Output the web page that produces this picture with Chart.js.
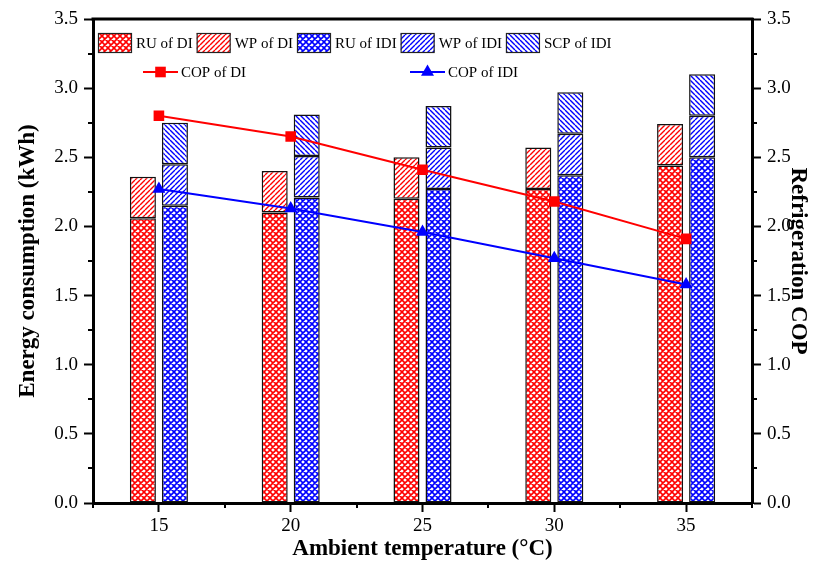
<!DOCTYPE html>
<html>
<head>
<meta charset="utf-8">
<title>Energy consumption and COP</title>
<script src="https://cdn.jsdelivr.net/npm/chart.js@4.4.0/dist/chart.umd.min.js"></script>
<style>
    html, body { margin: 0; padding: 0; background: #fff; }
    #wrap { width: 824px; height: 565px; }
</style>
</head>
<body>
<div id="wrap"><canvas id="mainChart"></canvas></div>
<script>
// ============ DATA ============

const temps = ['15', '20', '25', '30', '35'];

const ruDI  = [2.06, 2.10, 2.20, 2.27, 2.44];
const wpDI  = [0.30, 0.30, 0.30, 0.30, 0.30];
const ruIDI = [2.15, 2.21, 2.27, 2.37, 2.50];
const wpIDI = [0.30, 0.30, 0.30, 0.30, 0.30];
const scpIDI = [0.30, 0.30, 0.30, 0.30, 0.30];

const copDI  = [2.80, 2.65, 2.41, 2.18, 1.91];
const copIDI = [2.27, 2.13, 1.96, 1.77, 1.58];

const RED = '#ff0000';
const BLUE = '#0000ff';
const FONT = "'Liberation Serif', 'Times New Roman', serif";

// ============ PATTERNS ============

function makePattern(color, kind) {
    const s = kind === 'cross' ? 6 : 5;
    const c = document.createElement('canvas');
    c.width = s; c.height = s;
    const g = c.getContext('2d');
    g.fillStyle = '#fff';
    g.fillRect(0, 0, s, s);
    g.strokeStyle = color;
    g.lineWidth = kind === 'cross' ? 1.6 : 1.4;
    g.beginPath();
    for (let k = -s; k <= s; k += s) {
        if (kind === 'fwd' || kind === 'cross') {
            g.moveTo(k, s); g.lineTo(k + s, 0);
        }
        if (kind === 'back' || kind === 'cross') {
            g.moveTo(k, 0); g.lineTo(k + s, s);
        }
    }
    g.stroke();
    return g.createPattern(c, 'repeat');
}

// ============ PLUGINS ============

// top frame line + minor ticks on all three axes
const frameTicks = {
    id: 'frameTicks',
    afterDraw(chart) {
        const { ctx, chartArea: a } = chart;
        const y = chart.scales.y;
        const x = chart.scales.x;
        ctx.save();
        ctx.strokeStyle = '#000';
        ctx.lineWidth = 3;
        ctx.beginPath();
        ctx.moveTo(a.left - 1.5, a.top);
        ctx.lineTo(a.right + 1.5, a.top);
        ctx.stroke();

        ctx.lineWidth = 2;
        ctx.beginPath();
        for (let v = 0.25; v < 3.5; v += 0.5) {
            const py = Math.round(y.getPixelForValue(v));
            ctx.moveTo(a.left - 5, py); ctx.lineTo(a.left, py);
            ctx.moveTo(a.right, py); ctx.lineTo(a.right + 5, py);
        }
        for (let i = 0; i <= temps.length; i++) {
            const px = Math.round(x.getPixelForValue(i - 0.5));
            ctx.moveTo(px, a.bottom); ctx.lineTo(px, a.bottom + 5);
        }
        ctx.stroke();
        ctx.restore();
    }
};

// legend drawn inside the plot, two rows like the original
const plotLegend = {
    id: 'plotLegend',
    afterDraw(chart) {
        const ctx = chart.ctx;
        const ds = chart.data.datasets;
        ctx.save();
        ctx.font = '15px ' + FONT;
        ctx.textBaseline = 'middle';

        let x = 98;
        const y1 = 43;
        ds.filter(d => d.type !== 'line').forEach(d => {
            ctx.fillStyle = d.backgroundColor;
            ctx.fillRect(x, y1 - 10, 34, 20);
            ctx.strokeStyle = '#222';
            ctx.lineWidth = 1.2;
            ctx.strokeRect(x + 0.5, y1 - 9.5, 33, 19);
            ctx.fillStyle = '#000';
            ctx.fillText(d.label, x + 38, y1 + 1);
            x += 38 + ctx.measureText(d.label).width + 4;
        });

        const y2 = 72;
        const starts = [143, 410];
        ds.filter(d => d.type === 'line').forEach((d, i) => {
            const sx = starts[i];
            ctx.strokeStyle = d.borderColor;
            ctx.lineWidth = 2;
            ctx.beginPath();
            ctx.moveTo(sx, y2); ctx.lineTo(sx + 35, y2);
            ctx.stroke();
            ctx.fillStyle = d.borderColor;
            Chart.helpers.drawPoint(ctx, {
                pointStyle: d.pointStyle, radius: d.pointRadius,
                borderWidth: 0, rotation: 0
            }, sx + 17.5, y2);
            ctx.fillStyle = '#000';
            ctx.fillText(d.label, sx + 38, y2 + 1);
        });
        ctx.restore();
    }
};

// ============ CHART ============

Chart.defaults.font.family = FONT;
Chart.defaults.font.size = 19;
Chart.defaults.color = '#000';

const barCommon = {
    borderColor: '#111',
    borderWidth: 1.5,
    borderSkipped: false,
    categoryPercentage: 0.486,
    barPercentage: 0.8125,
    order: 1
};

const axisY = (position, width, title, titlePad) => ({
    type: 'linear',
    position: position,
    min: 0,
    max: 3.5,
    stacked: position === 'left',
    grid: {
        drawOnChartArea: false,
        drawTicks: true,
        tickLength: 9,
        tickWidth: 2,
        tickColor: '#000'
    },
    border: { display: true, width: 3, color: '#000' },
    ticks: {
        stepSize: 0.5,
        padding: 6,
        callback: v => Number(v).toFixed(1)
    },
    title: {
        display: true,
        text: title,
        font: { size: 23, weight: 'bold' },
        padding: { top: titlePad, bottom: 0 }
    },
    afterFit: s => { s.width = width; }
});

const ctx = document.getElementById('mainChart').getContext('2d');

const chart = new Chart(ctx, {
    type: 'bar',
    data: {
        labels: temps,
        datasets: [
            { ...barCommon, label: 'RU of DI', data: ruDI, stack: 'DI', backgroundColor: makePattern(RED, 'cross') },
            { ...barCommon, label: 'WP of DI', data: wpDI, stack: 'DI', backgroundColor: makePattern(RED, 'fwd') },
            { ...barCommon, label: 'RU of IDI', data: ruIDI, stack: 'IDI', backgroundColor: makePattern(BLUE, 'cross') },
            { ...barCommon, label: 'WP of IDI', data: wpIDI, stack: 'IDI', backgroundColor: makePattern(BLUE, 'fwd') },
            { ...barCommon, label: 'SCP of IDI', data: scpIDI, stack: 'IDI', backgroundColor: makePattern(BLUE, 'back') },
            {
                type: 'line', label: 'COP of DI', data: copDI, yAxisID: 'y1',
                borderColor: RED, backgroundColor: RED, borderWidth: 2,
                pointStyle: 'rect', pointRadius: 7.5, pointBorderWidth: 0,
                tension: 0, fill: false, order: 0
            },
            {
                type: 'line', label: 'COP of IDI', data: copIDI, yAxisID: 'y1',
                borderColor: BLUE, backgroundColor: BLUE, borderWidth: 2,
                pointStyle: 'triangle', pointRadius: 7.5, pointBorderWidth: 0,
                tension: 0, fill: false, order: 0
            }
        ]
    },
    options: {
        responsive: true,
        maintainAspectRatio: false,
        animation: false,
        layout: { padding: { top: 19, left: 0, right: 0, bottom: 0 } },
        plugins: {
            legend: { display: false },
            tooltip: { enabled: false }
        },
        scales: {
            x: {
                type: 'category',
                offset: true,
                grid: {
                    offset: false,
                    drawOnChartArea: false,
                    drawTicks: true,
                    tickLength: 9,
                    tickWidth: 2,
                    tickColor: '#000'
                },
                border: { display: true, width: 3, color: '#000' },
                ticks: { padding: 3 },
                title: {
                    display: true,
                    text: 'Ambient temperature (°C)',
                    font: { size: 23, weight: 'bold' },
                    padding: { top: 0, bottom: 2 }
                },
                afterFit: s => { s.height = 62; }
            },
            y: axisY('left', 93, 'Energy consumption (kWh)', 14),
            y1: axisY('right', 72, 'Refrigeration COP', 12)
        }
    },
    plugins: [frameTicks, plotLegend]
});
</script>
</body>
</html>
